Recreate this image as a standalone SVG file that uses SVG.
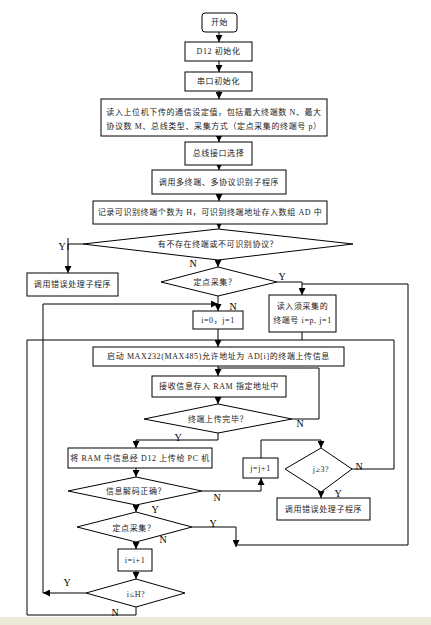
<svg xmlns="http://www.w3.org/2000/svg" width="431" height="625" viewBox="0 0 431 625">
<defs>
<marker id="ah" viewBox="0 0 8 8" refX="8" refY="4" markerWidth="7" markerHeight="7" orient="auto" markerUnits="userSpaceOnUse">
<path d="M0,0 L8,4 L0,8 Z" fill="#000"/>
</marker>
<style>
.b{fill:#fff;stroke:#000;stroke-width:1}
.l{fill:none;stroke:#000;stroke-width:1}
.a{fill:none;stroke:#000;stroke-width:1;marker-end:url(#ah)}
.t{font-family:"Liberation Serif","Noto Sans CJK SC",serif;font-size:8px;fill:#222;text-anchor:middle;dominant-baseline:central;letter-spacing:0.6px}
.k{font-family:"Liberation Serif",serif;font-size:10px;fill:#000;text-anchor:middle;dominant-baseline:central}
</style>
</defs>
<rect x="0" y="0" width="431" height="625" fill="#fff"/>
<rect x="0" y="617" width="431" height="8" fill="#ECE9D8"/>

<g id="connectors">
<path class="a" d="M219,32 V42"/>
<path class="a" d="M219,61 V72"/>
<path class="a" d="M219,91 V99"/>
<path class="a" d="M219,136 V142"/>
<path class="a" d="M219,165 V170"/>
<path class="a" d="M219,194 V201"/>
<path class="a" d="M219,224 V229"/>
<path class="a" d="M83,244 H68 V273"/>
<path class="l" d="M68,238 V250"/>
<path class="a" d="M218,260 V267"/>
<path class="a" d="M277,282 H302 V295"/>
<path class="a" d="M218,296 V311"/>
<path class="a" d="M43,593 V304 H218"/>
<path class="a" d="M86,593 H43"/>
<path class="l" d="M302,332 V340 H218"/>
<path class="l" d="M136,607 V615 H27 V340 H218"/>
<path class="l" d="M352,469 H394 V340 H302"/>
<path class="a" d="M218,329 V347"/>
<path class="a" d="M218,366 V376"/>
<path class="l" d="M292,419 H319 V368 H218"/>
<path class="a" d="M218,397 V404"/>
<path class="a" d="M218,433 V440 H136 V448"/>
<path class="a" d="M136,468 V477"/>
<path class="a" d="M202,491 H261 V478"/>
<path class="a" d="M261,458 V440 H321 V448"/>
<path class="a" d="M321,492 V498"/>
<path class="a" d="M136,505 V512"/>
<path class="a" d="M192,527 H236 V547"/>
<path class="l" d="M236,545 H408 V284 H302"/>
<path class="a" d="M136,542 V549"/>
<path class="a" d="M136,571 V579"/>
</g>

<g id="start">
<rect class="b" x="202" y="13" width="35" height="19" rx="3"/>
<text class="t" x="219.5" y="22.5">开始</text>
</g>
<g id="d12init">
<rect class="b" x="185" y="42" width="67" height="19"/>
<text class="t" x="218.5" y="51.5">D12 初始化</text>
</g>
<g id="serialinit">
<rect class="b" x="185" y="72" width="67" height="19"/>
<text class="t" x="218.5" y="81.5">串口初始化</text>
</g>
<g id="readsettings">
<rect class="b" x="101" y="99" width="226" height="37"/>
<text class="t" x="214" y="112">读入上位机下传的通信设定值，包括最大终端数 N、最大</text>
<text class="t" x="214" y="126">协议数 M、总线类型、采集方式（定点采集的终端号 p）</text>
</g>
<g id="busselect">
<rect class="b" x="185" y="142" width="67" height="23"/>
<text class="t" x="218.5" y="153.5">总线接口选择</text>
</g>
<g id="identify">
<rect class="b" x="152" y="170" width="134" height="24"/>
<text class="t" x="219" y="182">调用多终端、多协议识别子程序</text>
</g>
<g id="record">
<rect class="b" x="93" y="201" width="234" height="23"/>
<text class="t" x="210" y="212.5">记录可识别终端个数为 H，可识别终端地址存入数组 AD 中</text>
</g>
<g id="dec-unknown">
<polygon class="b" points="218,229 353,244 218,260 83,244"/>
<text class="t" x="218" y="244">有不存在终端或不可识别协议？</text>
<text class="k" x="62" y="246">Y</text>
<text class="k" x="193" y="263">N</text>
</g>
<g id="err1">
<rect class="b" x="27" y="273" width="91" height="23"/>
<text class="t" x="72.5" y="284.5">调用错误处理子程序</text>
</g>
<g id="dec-fixed1">
<polygon class="b" points="218,267 277,282 218,296 161,282"/>
<text class="t" x="215" y="282">定点采集？</text>
<text class="k" x="282" y="276">Y</text>
<text class="k" x="233" y="306">N</text>
</g>
<g id="init-ij">
<rect class="b" x="193" y="311" width="50" height="18"/>
<text class="t" x="218" y="320">i=0，j=1</text>
</g>
<g id="input-p">
<rect class="b" x="269" y="295" width="67" height="37"/>
<text class="t" x="302.5" y="306">读入须采集的</text>
<text class="t" x="302.5" y="320">终端号 i=p, j=1</text>
</g>
<g id="start-max">
<rect class="b" x="93" y="347" width="251" height="19"/>
<text class="t" x="218.5" y="356.5">启动 MAX232(MAX485)允许地址为 AD[i]的终端上传信息</text>
</g>
<g id="receive">
<rect class="b" x="152" y="376" width="134" height="21"/>
<text class="t" x="219" y="386.5">接收信息存入 RAM 指定地址中</text>
</g>
<g id="dec-done">
<polygon class="b" points="218,404 292,419 218,433 144,419"/>
<text class="t" x="218" y="419">终端上传完毕？</text>
<text class="k" x="300" y="423">N</text>
<text class="k" x="178" y="437">Y</text>
</g>
<g id="upload">
<rect class="b" x="68" y="448" width="144" height="20"/>
<text class="t" x="140" y="458">将 RAM 中信息经 D12 上传给 PC 机</text>
</g>
<g id="dec-decode">
<polygon class="b" points="136,477 202,491 136,505 68,491"/>
<text class="t" x="136" y="491">信息解码正确？</text>
<text class="k" x="217" y="497">N</text>
<text class="k" x="155" y="509">Y</text>
</g>
<g id="jinc">
<rect class="b" x="243" y="458" width="35" height="20"/>
<text class="t" x="260.5" y="468">j=j+1</text>
</g>
<g id="dec-j3">
<polygon class="b" points="321,448 352,469 321,492 285,469"/>
<text class="t" x="321" y="469">j≥3?</text>
<text class="k" x="359" y="466">N</text>
<text class="k" x="338" y="493">Y</text>
</g>
<g id="err2">
<rect class="b" x="277" y="498" width="93" height="22"/>
<text class="t" x="323.5" y="509">调用错误处理子程序</text>
</g>
<g id="dec-fixed2">
<polygon class="b" points="136,512 192,527 136,542 77,527"/>
<text class="t" x="134" y="528">定点采集？</text>
<text class="k" x="213" y="523">Y</text>
<text class="k" x="163" y="539">N</text>
</g>
<g id="iinc">
<rect class="b" x="118" y="549" width="34" height="22"/>
<text class="t" x="135" y="560">i=i+1</text>
</g>
<g id="dec-h">
<polygon class="b" points="136,579 185,593 136,607 86,593"/>
<text class="t" x="136" y="594">i≤H?</text>
<text class="k" x="67" y="582">Y</text>
<text class="k" x="115" y="612">N</text>
</g>
</svg>
